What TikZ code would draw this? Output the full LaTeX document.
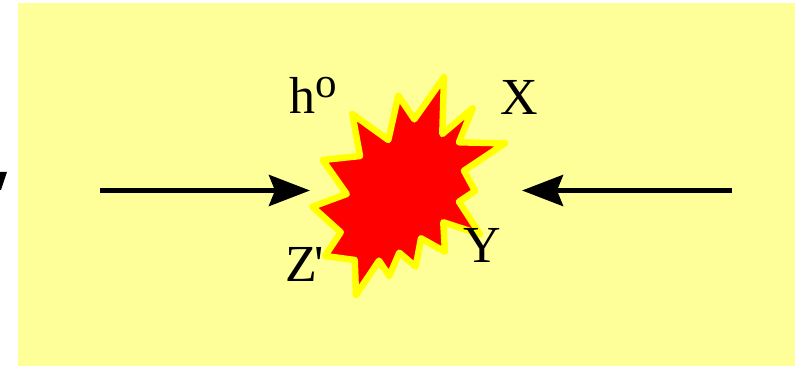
\documentclass[tikz,border=0pt]{standalone}
\usepackage{xcolor}
\usepackage{fontspec}
\setmainfont{Liberation Serif}
\usetikzlibrary{arrows.meta}
\definecolor{panelyellow}{HTML}{FFFF99}
\definecolor{burstred}{HTML}{FF0000}
\definecolor{burstedge}{HTML}{FFFF00}
\tikzset{
  panel/.style={fill=panelyellow, draw=none},
  burst/.style={draw=burstedge, fill=burstred, line width=6.5pt, line join=round},
  arrow/.style={-{Stealth[length=41pt, width=31pt, inset=6pt]}, line width=5pt, color=black},
  lbl/.style={font=\fontsize{52}{52}\selectfont, inner sep=0pt, anchor=base, color=black},
  lblw/.style={lbl, anchor=base west},
}

\begin{document}
\begin{tikzpicture}[x=1pt, y=-1pt]

  \useasboundingbox (0,0) rectangle (795,366);
  \fill[panel] (18,3) rectangle (795,366);

  % cut off at the left edge
  \fill[black] (0,172) -- (7,172) -- (1,190) -- (0,190) -- cycle;

  \draw[burst] (444,77.3) -- (442.3,134) -- (472.7,108.3) -- (459,142.3)
    -- (505,143.3) -- (464,170.7) -- (475,191) -- (459,201.7)
    -- (480,234.3) -- (443.3,222.3) -- (445,251.7) -- (421,238.3)
    -- (415.7,266.7) -- (399.3,252.7) -- (389.3,276) -- (379,260.7)
    -- (356,295) -- (354.7,260) -- (325,256) -- (340.7,232.3)
    -- (312.3,206.7) -- (346.7,194) -- (322.7,160) -- (360,156)
    -- (352.3,114) -- (388.3,140) -- (398.3,95.7) -- (414.3,119.3) -- cycle;

  \coordinate (leftstart)  at (100,190.5);
  \coordinate (leftend)    at (310,190.5);
  \coordinate (rightstart) at (732,190.5);
  \coordinate (rightend)   at (522,190.5);

  \draw[arrow] (leftstart)  -- (leftend);
  \draw[arrow] (rightstart) -- (rightend);

  \node[lblw] (higgs) at (289.5,114) {h\raisebox{16pt}{\fontsize{43}{43}\selectfont o}};
  \node[lbl]  (xlbl)  at (519,114.5) {X};
  \node[lbl]  (ylbl)  at (482.5,262) {Y};
  \node[lblw] (zlbl)  at (285,281.5) {Z\kern-2pt\textquotesingle};

\end{tikzpicture}
\end{document}
